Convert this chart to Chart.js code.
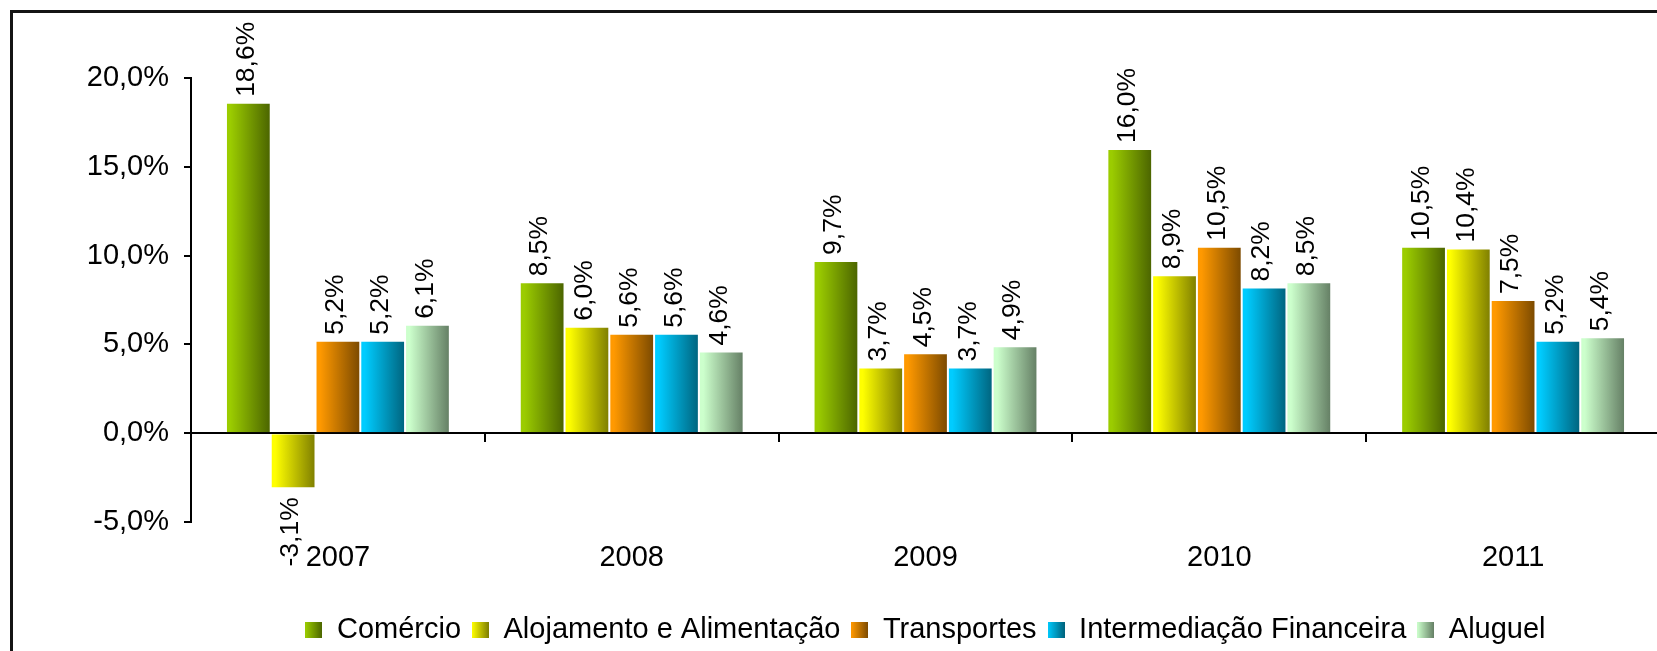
<!DOCTYPE html>
<html>
<head>
<meta charset="utf-8">
<script src="https://cdn.jsdelivr.net/npm/chart.js@4.4.0/dist/chart.umd.min.js"></script>
<style>
  html, body { margin: 0; padding: 0; background: #fff; overflow: hidden; }
  #moldura { position: absolute; left: 10px; top: 10px; width: 1720px; height: 720px; border: 3px solid #141414; }
  #grafico { position: absolute; left: 0; top: 0; }
</style>
</head>
<body>
<div id="moldura"><canvas id="grafico" width="1690" height="660"></canvas></div>
<script>
// Dados do gráfico
const anos = ['2007', '2008', '2009', '2010', '2011'];
const comercio = [18.6, 8.5, 9.7, 16.0, 10.5];
const alojamento = [-3.1, 6.0, 3.7, 8.9, 10.4];
const transportes = [5.2, 5.6, 4.5, 10.5, 7.5];
const intermediacao = [5.2, 5.6, 3.7, 8.2, 5.2];
const aluguel = [6.1, 4.6, 4.9, 8.5, 5.4];
const eixoY = { min: -5, max: 20, passo: 5 };

// Cores: claro à esquerda, escuro à direita
const cores = [
    ['#9bcc00', '#4a6300'],
    ['#ffff00', '#7d7d00'],
    ['#ff9900', '#7a4900'],
    ['#00ccff', '#00637d'],
    ['#ccffcc', '#637d63']
];

const fmt = (v, casas) => v.toFixed(casas).replace('.', ',') + '%';

// Marcadores da legenda com degradê
function criarMarcador(c) {
    const cv = document.createElement('canvas');
    cv.width = 17; cv.height = 16;
    const g = cv.getContext('2d');
    const grad = g.createLinearGradient(0, 0, 17, 0);
    grad.addColorStop(0, c[0]);
    grad.addColorStop(1, c[1]);
    g.fillStyle = grad;
    g.fillRect(0, 0, 17, 16);
    return cv;
}

// Degradê horizontal em cada barra
const pluginDegrade = {
    id: 'degrade',
    beforeDatasetsDraw(chart) {
        const ctx = chart.ctx;
        chart.data.datasets.forEach((ds, i) => {
            chart.getDatasetMeta(i).data.forEach(el => {
                const x0 = el.x - el.width / 2;
                const grad = ctx.createLinearGradient(x0, 0, x0 + el.width, 0);
                grad.addColorStop(0, cores[i][0]);
                grad.addColorStop(0.1, cores[i][0]);
                grad.addColorStop(1, cores[i][1]);
                el.options.backgroundColor = grad;
            });
        });
    }
};

// Rótulos verticais com os valores
const pluginRotulos = {
    id: 'rotulos',
    afterDatasetsDraw(chart) {
        const ctx = chart.ctx;
        ctx.save();
        ctx.font = '26.5px "Liberation Sans", Arial, sans-serif';
        ctx.fillStyle = '#000';
        ctx.textBaseline = 'middle';
        chart.data.datasets.forEach((ds, i) => {
            chart.getDatasetMeta(i).data.forEach((el, j) => {
                const v = ds.data[j];
                ctx.save();
                if (v >= 0) {
                    ctx.translate(el.x - 2, el.y - 6);
                    ctx.rotate(-Math.PI / 2);
                    ctx.textAlign = 'left';
                } else {
                    ctx.translate(el.x - 2, el.y + 9);
                    ctx.rotate(-Math.PI / 2);
                    ctx.textAlign = 'right';
                }
                ctx.fillText(fmt(v, 1), 0, 0);
                ctx.restore();
            });
        });
        ctx.restore();
    }
};

const series = [
    ['Comércio', comercio],
    ['Alojamento e Alimentação', alojamento],
    ['Transportes', transportes],
    ['Intermediação Financeira', intermediacao],
    ['Aluguel', aluguel]
];
const marcadores = cores.map(criarMarcador);

const fonte = { family: '"Liberation Sans", Arial, sans-serif', size: 29 };

new Chart(document.getElementById('grafico'), {
    type: 'bar',
    data: {
        labels: anos,
        datasets: series.map((s, i) => ({
            label: s[0],
            data: s[1],
            backgroundColor: () => cores[i][0],
            borderColor: 'rgba(255,255,255,0.55)',
            borderWidth: 1,
            barPercentage: 1,
            categoryPercentage: 0.762
        }))
    },
    options: {
        responsive: false,
        animation: false,
        layout: { padding: { top: 65, right: 43, bottom: 19, left: 0 } },
        scales: {
            x: {
                grid: { display: false, drawTicks: false },
                border: { display: false },
                ticks: { color: '#000', font: fonte, padding: 19 },
                afterFit: (s) => { s.height = 82; }
            },
            zero: {
                type: 'category',
                axis: 'x',
                position: { y: 0 },
                offset: true,
                grid: { drawOnChartArea: false, drawTicks: true, tickLength: 8, color: '#000', lineWidth: 2, offset: true },
                border: { display: true, color: '#000', width: 2 },
                ticks: { display: false }
            },
            y: {
                min: eixoY.min,
                max: eixoY.max,
                grid: { drawOnChartArea: false, drawTicks: true, tickLength: 7, color: '#000', lineWidth: 2 },
                border: { display: true, color: '#000', width: 2 },
                ticks: {
                    stepSize: eixoY.passo,
                    color: '#000',
                    font: fonte,
                    padding: 15,
                    callback: (v) => fmt(v, 1)
                },
                afterFit: (s) => { s.width = 178; }
            }
        },
        plugins: {
            tooltip: { enabled: false },
            legend: {
                position: 'bottom',
                fullSize: false,
                labels: {
                    usePointStyle: true,
                    boxWidth: 17,
                    boxHeight: 16,
                    padding: 11,
                    color: '#000',
                    font: fonte,
                    generateLabels: (chart) => chart.data.datasets.map((ds, i) => ({
                        text: ds.label,
                        pointStyle: marcadores[i],
                        fillStyle: cores[i][0],
                        strokeStyle: 'transparent',
                        lineWidth: 0,
                        hidden: false,
                        datasetIndex: i,
                        fontColor: '#000'
                    }))
                }
            }
        }
    },
    plugins: [pluginDegrade, pluginRotulos]
});
</script>
</body>
</html>
